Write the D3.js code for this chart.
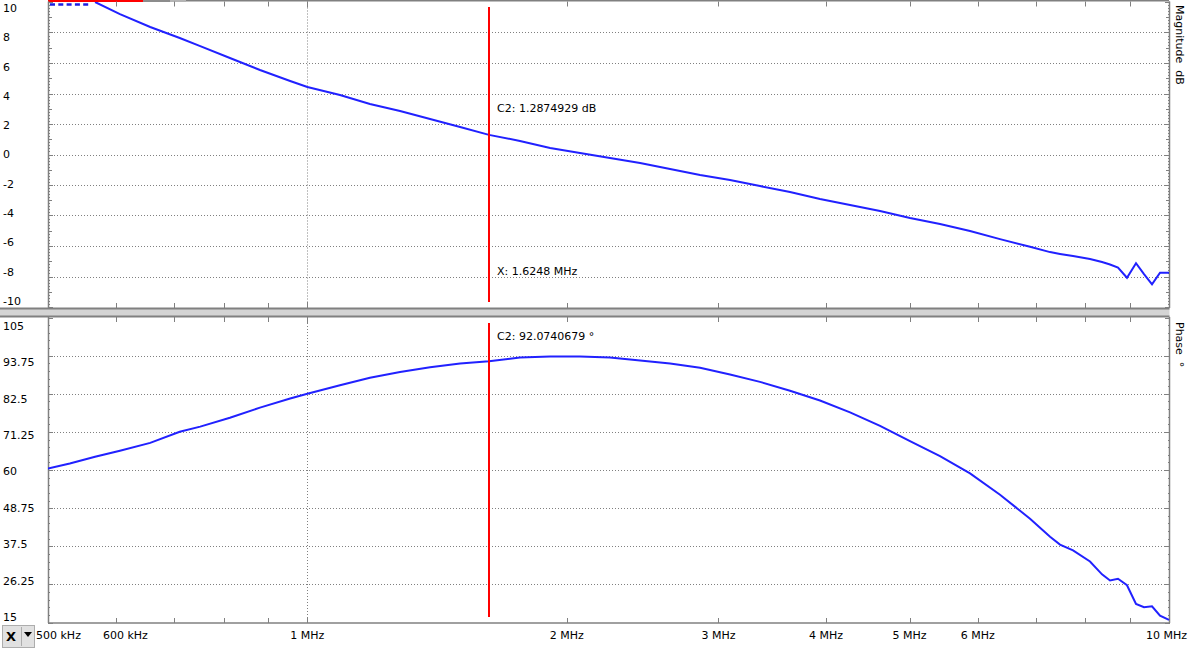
<!DOCTYPE html>
<html><head><meta charset="utf-8">
<script src="https://cdn.jsdelivr.net/npm/d3@7/dist/d3.min.js"></script>
<style>
html,body{margin:0;padding:0;background:#fff;}
svg{display:block;font-family:"DejaVu Sans",sans-serif;font-size:11px;}
</style></head>
<body><svg id="chart" width="1193" height="649"></svg>
<script>
// ---------- data ----------
const freqMHz = [0.5,0.530,0.567,0.606,0.657,0.711,0.751,0.813,0.881,0.955,1.0,1.091,1.182,1.281,1.388,1.504,1.6248,1.765,1.913,2.072,2.245,2.433,2.636,2.856,3.094,3.352,3.632,3.935,4.264,4.620,5.005,5.423,5.876,6.366,6.898,7.277,7.473,7.738,8.097,8.361,8.542,8.726,8.938,9.156,9.354,9.556,9.763,10.0];
const magnitudeDb = [11.6,10.9,10.0,9.2,8.36,7.64,7.11,6.33,5.54,4.82,4.43,3.90,3.31,2.85,2.33,1.80,1.287,0.89,0.43,0.10,-0.23,-0.56,-0.95,-1.34,-1.67,-2.07,-2.46,-2.92,-3.31,-3.70,-4.16,-4.56,-5.02,-5.55,-6.05,-6.40,-6.52,-6.66,-6.85,-7.05,-7.21,-7.41,-8.08,-7.13,-7.84,-8.51,-7.75,-7.75];
const phaseDeg = [60.4,61.9,63.9,65.7,68.0,71.3,72.8,75.4,78.4,81.1,82.5,85.0,87.2,88.9,90.3,91.4,92.07,93.2,93.5,93.5,93.2,92.3,91.4,90.2,88.2,86.0,83.4,80.5,77.0,73.0,68.5,64.1,59.0,52.7,45.6,40.3,38.0,36.3,33.0,29.2,27.4,27.9,26.0,20.5,19.5,19.8,17.0,15.8];
const magTicks = [10,8,6,4,2,0,-2,-4,-6,-8,-10];
const phaseTicks = [105,93.75,82.5,71.25,60,48.75,37.5,26.25,15];
const freqLabelValues = [0.5,0.6,1,2,3,4,5,6,10];
const freqLabelTexts = ["500 kHz","600 kHz","1 MHz","2 MHz","3 MHz","4 MHz","5 MHz","6 MHz","10 MHz"];
const cursorFreqMHz = 1.6248;
const cursorTexts = ["C2: 1.2874929 dB","X: 1.6248 MHz","C2: 92.0740679 °"];
const axisTitles = ["Magnitude  dB","Phase  °"];

// ---------- layout ----------
const L = 48, R = 1169;
const magTop = 1.5, magBot = 308, phTop = 317, phBot = 623;
const svg = d3.select("#chart");
const x = d3.scaleLog().domain([0.5,10]).range([L,R]);
const yM = d3.scaleLinear().domain([-10,10]).range([307,2]);
const yP = d3.scaleLinear().domain([15,105]).range([622.5,317.5]);
const yMLab = d3.scaleLinear().domain([10,-10]).range([8,301]);
const yPLab = d3.scaleLinear().domain([105,15]).range([326,617]);
const gray = "#808080", blue = "#2121ff", red = "#ff0000";

// top scroll indicator
svg.append("rect").attr("x",L).attr("y",0).attr("width",R-L).attr("height",1.5).attr("fill",gray);
svg.append("rect").attr("x",L).attr("y",0).attr("width",95).attr("height",2).attr("fill",red);
svg.append("rect").attr("x",143).attr("y",0).attr("width",27).attr("height",2).attr("fill","#8c8c8c");
svg.append("rect").attr("x",170).attr("y",0).attr("width",16).attr("height",2).attr("fill","#b4b4b4");

// separator band
svg.append("rect").attr("x",0).attr("y",308).attr("width",R+0.5).attr("height",9).attr("fill","#d4d4d4");
svg.append("line").attr("x1",0).attr("x2",R+0.5).attr("y1",308.5).attr("y2",308.5).attr("stroke",gray).attr("stroke-width",2);
svg.append("line").attr("x1",0).attr("x2",R+0.5).attr("y1",316.5).attr("y2",316.5).attr("stroke",gray).attr("stroke-width",2);

function panel(y, top, bot, ticks, isMag){
  const g = svg.append("g");
  g.selectAll(".hg").data(ticks.filter(t=>t!==ticks[0] && t!==ticks[ticks.length-1])).enter().append("line")
    .attr("x1",L).attr("x2",R).attr("y1",d=>Math.round(y(d))+0.5).attr("y2",d=>Math.round(y(d))+0.5)
    .attr("stroke",gray).attr("stroke-dasharray","1,2");
  g.append("line").attr("x1",Math.round(x(1))+0.5).attr("x2",Math.round(x(1))+0.5).attr("y1",top).attr("y2",bot)
    .attr("stroke",gray).attr("stroke-dasharray","1,2");
  g.append("line").attr("x1",L+0.5).attr("x2",L+0.5).attr("y1",top).attr("y2",bot).attr("stroke",gray).attr("stroke-width",1.5);
  g.append("line").attr("x1",R+0.5).attr("x2",R+0.5).attr("y1",top).attr("y2",bot).attr("stroke",gray).attr("stroke-width",1.5);
  const dom = y.domain();
  const step = isMag ? 0.2 : 2.25;
  const n = Math.round((dom[1]-dom[0])/step);
  const mt = d3.range(n+1).map(i=>dom[0]+i*step);
  mt.forEach((v,i)=>{
    let len;
    if (isMag){ len = (i%10===0)?5:((i%5===0)?4:2); }
    else { len = (i%5===0)?5:2; }
    const yy = Math.round(y(v))+0.5;
    g.append("line").attr("x1",L).attr("x2",L+len).attr("y1",yy).attr("y2",yy).attr("stroke",gray);
    g.append("line").attr("x1",R-len+1).attr("x2",R+1).attr("y1",yy).attr("y2",yy).attr("stroke",gray);
  });
  x.ticks().forEach(f=>{
    const xx = Math.round(x(f))+0.5;
    const len = (f===1||f===10)?6:5;
    g.append("line").attr("x1",xx).attr("x2",xx).attr("y1",top).attr("y2",top+len).attr("stroke",gray);
    g.append("line").attr("x1",xx).attr("x2",xx).attr("y1",bot-len).attr("y2",bot).attr("stroke",gray);
  });
}
panel(yM, magTop, magBot, magTicks, true);
panel(yP, phTop, phBot, phaseTicks, false);
svg.append("line").attr("x1",L).attr("x2",R+1).attr("y1",623).attr("y2",623).attr("stroke",gray).attr("stroke-width",1.5);

// y tick labels
svg.selectAll(".ml").data(magTicks).enter().append("text")
  .attr("x",3).attr("y",d=>yMLab(d)).attr("dy","0.36em").attr("fill","#000").text(d=>d);
svg.selectAll(".pl").data(phaseTicks).enter().append("text")
  .attr("x",3).attr("y",d=>yPLab(d)).attr("dy","0.36em").attr("fill","#000").text(d=>d);

// x tick labels: centred on tick, clamped to the strip, kept at least 22px apart
const xLabels = svg.selectAll(".xl").data(freqLabelValues).enter().append("text")
  .attr("class","xl").attr("y",639).attr("fill","#000").attr("text-anchor","start")
  .text((d,i)=>freqLabelTexts[i]);
let prevEnd = -1e9;
xLabels.nodes().forEach((node,i)=>{
  const w = node.getComputedTextLength();
  let left = x(freqLabelValues[i]) - w/2;
  if (left < 36) left = 36;
  if (left + w > 1187) left = 1187 - w;
  if (left < prevEnd + 22) left = prevEnd + 22;
  node.setAttribute("x", left);
  prevEnd = left + w;
});

// axis titles (rotated)
svg.append("text").attr("transform","translate(1176,5) rotate(90)").attr("fill","#000")
  .style("white-space","pre").text(axisTitles[0]);
svg.append("text").attr("transform","translate(1176,322) rotate(90)").attr("fill","#000")
  .style("white-space","pre").text(axisTitles[1]);

// clip paths
const defs = svg.append("defs");
defs.append("clipPath").attr("id","cm").append("rect").attr("x",L).attr("y",2).attr("width",R-L+1).attr("height",305);
defs.append("clipPath").attr("id","cp").append("rect").attr("x",L).attr("y",318).attr("width",R-L+1).attr("height",305);

const idx = d3.range(freqMHz.length);
const magLine = d3.line().x(i=>x(freqMHz[i])).y(i=>yM(magnitudeDb[i]));
const phLine = d3.line().x(i=>x(freqMHz[i])).y(i=>yP(phaseDeg[i]));

const firstIn = magnitudeDb.findIndex(v=>v<=yM.domain()[1]);
svg.append("path").attr("d",magLine(idx.slice(firstIn))).attr("fill","none").attr("stroke",blue)
  .attr("stroke-width",2).attr("clip-path","url(#cm)");
// out-of-range indicator (dotted at top edge)
svg.append("line").attr("x1",x(freqMHz[0])+2).attr("x2",x(freqMHz[firstIn])-6)
  .attr("y1",yM(yM.domain()[1])+2.5).attr("y2",yM(yM.domain()[1])+2.5)
  .attr("stroke","#1f1fe0").attr("stroke-width",2.5).attr("stroke-dasharray","5,3.3");

svg.append("path").attr("d",phLine(idx)).attr("fill","none").attr("stroke",blue)
  .attr("stroke-width",2).attr("clip-path","url(#cp)");

// cursor
const cx = Math.round(x(cursorFreqMHz));
svg.append("line").attr("x1",cx).attr("x2",cx).attr("y1",7).attr("y2",302).attr("stroke",red).attr("stroke-width",2);
svg.append("line").attr("x1",cx).attr("x2",cx).attr("y1",323).attr("y2",617).attr("stroke",red).attr("stroke-width",2);
svg.append("text").attr("x",cx+8).attr("y",112).attr("fill","#000").text(cursorTexts[0]);
svg.append("text").attr("x",cx+8).attr("y",275).attr("fill","#000").text(cursorTexts[1]);
svg.append("text").attr("x",cx+8).attr("y",340).attr("fill","#000").text(cursorTexts[2]);

// X button
const b = svg.append("g");
b.append("rect").attr("x",2.5).attr("y",625.5).attr("width",32).attr("height",22).attr("fill","#e1e1e1").attr("stroke","#adadad");
b.append("text").attr("x",11).attr("y",641).attr("text-anchor","middle").attr("font-weight","bold").attr("font-size","13px").attr("fill","#000").text("X");
b.append("line").attr("x1",21.5).attr("x2",21.5).attr("y1",627).attr("y2",646).attr("stroke","#adadad");
b.append("path").attr("d","M24,632 L32,632 L28,637 Z").attr("fill","#000");
</script></body></html>
